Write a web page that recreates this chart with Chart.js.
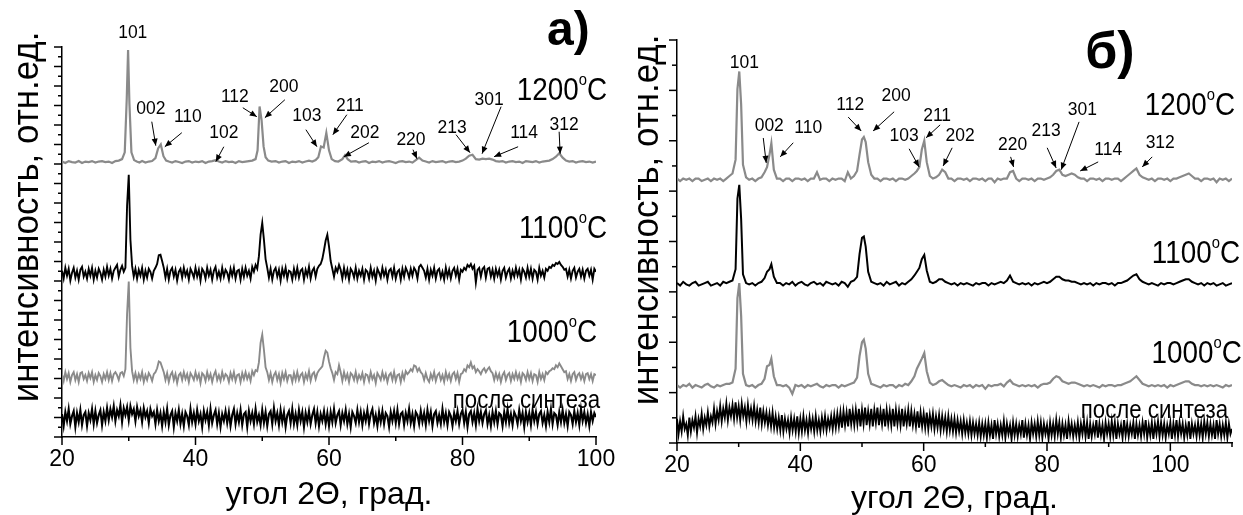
<!DOCTYPE html>
<html>
<head>
<meta charset="utf-8">
<script src="https://cdn.jsdelivr.net/npm/chart.js@4.4.1/dist/chart.umd.min.js"></script>
<style>
  body { margin: 0; background: #fff; }
  #wrap { position: relative; width: 1243px; height: 515px; overflow: hidden; }
  #chartA { position: absolute; left: 0; top: 0; }
  #chartB { position: absolute; left: 620px; top: 0; }
</style>
</head>
<body>
<div id="wrap">
  <canvas id="chartA" width="620" height="515"></canvas>
  <canvas id="chartB" width="623" height="515"></canvas>
</div>
<script>
// noisy scans are stored as a plain step scan starting at 20 deg
const scanStart = 20;
const scanStep = 0.25;

// ---- panel a) : intensities relative to each trace's baseline
const gridA = [
  20,20.5,21,21.5,22,22.5,23,23.5,24,24.5,25,25.5,26,26.5,27,27.5,28,28.5,29,
  29.4,29.7,29.9,30.1,30.4,30.8,31.2,31.6,
  32,32.5,33,33.5,34,
  34.4,34.8,35.2,35.6,
  36,36.5,37,37.5,38,38.5,39,39.5,40,40.5,41,41.5,42,42.5,43,43.5,44,44.5,45,45.5,46,46.5,47,47.5,48,48.5,49,
  49.3,49.6,49.9,50.2,50.5,50.9,51.4,
  52,52.5,53,53.5,54,54.5,55,55.5,56,56.5,57,57.5,58,
  58.4,58.8,59.2,59.6,60,60.4,60.9,61.4,
  62,62.4,62.8,63.3,
  64,64.5,65,65.5,66,66.5,67,67.5,68,68.5,
  69,69.5,70,70.5,71,71.5,72,72.5,73,73.5,
  74,74.5,75,75.5,76,76.5,77,77.5,78,78.5,
  79,79.5,80,80.5,81,81.5,82,82.5,83,83.5,
  84,84.5,85,85.5,86,86.5,87,87.5,88,88.5,
  89,89.5,90,90.5,91,91.5,92,92.5,93,93.5,
  94,94.5,95,95.5,96,96.5,97,97.5,98,98.5,
  99,99.5,100
];
const a1200 = [
  0.05,-0.1,0.1,0,-0.05,0.1,-0.1,0.05,0,0.1,-0.05,0.05,0.1,0,0.05,-0.1,0.1,0.15,0.3,
  1.0,6.5,11.5,6.0,1.0,0.2,0.05,-0.05,
  0.1,-0.05,0.05,0.1,0.4,
  1.4,1.8,0.6,0.15,
  0.05,-0.05,0.1,0,-0.1,0.05,0.1,-0.05,0.05,0,0.1,-0.1,0.05,0.1,0.2,0.05,-0.05,0.1,0,0.05,-0.1,0.1,0,0.05,0.1,0.15,0.3,
  1.2,5.7,4.3,1.6,0.5,0.15,0.05,
  0.1,-0.05,0.05,0.1,-0.1,0.05,0,0.1,-0.05,0.05,0.15,0.05,0.2,
  0.5,1.6,1.5,3.0,1.2,0.3,0.1,0.05,
  0.3,0.7,0.3,0.05,
  0.1,-0.05,0.05,0.1,-0.1,0.05,0,0.1,-0.05,0.05,
  0.1,0,-0.1,0.05,0.1,0,0.05,-0.05,0.2,0.45,
  0.15,0.05,-0.05,0.1,0,0.05,0.1,-0.05,0.05,0.1,
  0,0.05,0.15,0.35,0.65,0.75,0.3,0.25,0.35,0.3,
  0.35,0.25,0.1,0.05,0.1,-0.05,0.05,0.1,0,0.05,
  -0.1,0.1,0.05,0,0.1,-0.05,0.05,0.1,0.15,0.3,
  0.55,0.9,0.45,0.15,0.05,0.1,-0.05,0.05,0.1,0,
  0.05,-0.05,0.05
];
// 1100 C, 1000 C and as-synthesized: step scans 20..100 deg, 20 values per line = 5 deg
const a1100 = [
  0.3,-0.5,0.6,-0.2,0.5,-0.7,0.1,0.6,-0.4,0.3,-0.6,0.4,0.7,-0.3,0.2,-0.5,0.5,-0.2,0.6,-0.6,
  0.3,-0.4,0.5,0.1,-0.6,0.4,-0.3,0.7,-0.2,0.5,-0.5,0.3,0.6,0.9,-0.3,0.4,0.8,0.2,0.6,7.0,
  10.15,3.5,0.8,-0.3,0.5,-0.5,0.4,-0.2,0.6,-0.6,0.3,-0.4,0.5,0.2,-0.5,0.3,0.6,1.0,1.9,1.95,
  1.3,0.6,-0.4,0.5,-0.6,0.3,0.6,-0.3,0.4,-0.7,0.2,0.5,-0.4,0.6,-0.2,0.3,-0.6,0.5,0.1,-0.4,
  0.6,-0.3,0.4,-0.7,0.5,0.2,-0.5,0.6,-0.2,0.4,-0.6,0.3,0.7,-0.4,0.2,-0.5,0.6,-0.3,0.4,0.1,
  -0.6,0.5,-0.2,0.6,-0.5,0.3,0.4,-0.6,0.5,-0.3,0.6,-0.2,0.3,-0.5,0.7,0.2,0.9,0.5,1.8,4.0,
  5.2,3.5,1.5,0.6,-0.4,0.5,-0.6,0.3,0.6,-0.3,0.4,-0.7,0.5,-0.2,0.6,-0.5,0.3,0.2,-0.6,0.5,
  -0.3,0.6,-0.4,0.3,0.5,-0.6,0.4,-0.2,0.7,-0.5,0.3,0.6,-0.3,0.5,0.8,1.0,1.5,2.4,3.4,4.0,
  2.8,1.3,0.5,-0.3,0.6,0.2,0.9,0.4,-0.5,0.6,-0.3,0.4,-0.6,0.5,0.2,-0.4,0.6,-0.5,0.3,-0.2,
  0.5,-0.6,0.4,0.2,-0.5,0.6,-0.3,0.3,-0.7,0.5,0.1,-0.4,0.6,-0.2,0.4,-0.6,0.3,0.5,-0.3,0.6,
  -0.5,0.2,0.4,-0.6,0.5,-0.3,0.6,0.2,-0.4,0.5,-0.2,0.6,0.3,-0.5,0.7,0.9,0.6,0.3,-0.4,0.5,
  -0.6,0.4,-0.2,0.6,-0.5,0.3,0.5,-0.4,0.2,-0.6,0.6,-0.3,0.4,-0.5,0.3,0.6,-0.2,0.5,-0.6,0.4,
  0.2,0.6,0.4,0.9,0.7,1.0,0.5,0.8,-0.9,0.4,0.6,-0.3,0.5,0.7,-0.4,0.5,0.6,-0.3,0.4,-0.5,
  0.5,-0.2,0.4,-0.6,0.3,0.6,-0.4,0.2,0.5,-0.5,0.3,-0.3,0.6,-0.2,0.4,-0.6,0.5,0.2,-0.4,0.6,
  -0.3,0.5,-0.5,0.4,0.2,-0.6,0.6,-0.2,0.3,-0.4,0.5,0.3,0.7,0.6,0.9,0.8,1.1,1.0,1.2,0.9,
  0.7,0.4,0.5,-0.3,0.4,-0.5,0.3,0.6,-0.4,0.2,0.5,-0.3,0.4,-0.5,0.3,0.5,-0.2,0.4,-0.6,0.5,
  0.2
];
const a1000 = [
  0.3,-0.4,0.5,-0.2,0.4,-0.5,0.2,0.5,-0.3,0.3,-0.5,0.4,0.5,-0.2,0.2,-0.4,0.4,-0.1,0.5,-0.5,
  0.2,-0.3,0.4,0.1,-0.5,0.3,-0.2,0.5,-0.3,0.4,-0.4,0.3,0.5,0.2,-0.3,0.4,0.5,0.1,0.8,6.5,
  9.8,3.0,0.6,-0.3,0.4,-0.4,0.3,-0.2,0.5,-0.5,0.2,-0.3,0.4,0.1,-0.4,0.3,0.5,0.9,1.6,1.5,
  1.0,0.5,-0.3,0.4,-0.5,0.2,0.5,-0.3,0.3,-0.6,0.2,0.4,-0.3,0.5,-0.2,0.3,-0.5,0.4,0.1,-0.3,
  0.5,-0.2,0.3,-0.6,0.4,0.2,-0.4,0.5,-0.2,0.3,-0.5,0.2,0.6,-0.3,0.2,-0.4,0.5,-0.2,0.3,0.1,
  -0.5,0.4,-0.2,0.5,-0.4,0.2,0.3,-0.5,0.4,-0.2,0.5,-0.2,0.3,-0.4,0.6,0.2,0.7,0.6,1.5,3.5,
  4.35,2.8,1.0,0.5,-0.3,0.4,-0.5,0.2,0.5,-0.3,0.3,-0.6,0.4,-0.2,0.5,-0.4,0.2,0.2,-0.5,0.4,
  -0.3,0.5,-0.3,0.2,0.4,-0.5,0.3,-0.2,0.6,-0.4,0.3,0.5,-0.2,0.4,0.7,0.9,1.1,2.0,2.7,2.5,
  1.6,0.9,0.4,-0.3,0.5,0.3,1.2,0.5,-0.4,0.5,-0.2,0.3,-0.5,0.4,0.2,-0.3,0.5,-0.4,0.2,-0.2,
  0.4,-0.5,0.3,0.2,-0.4,0.5,-0.2,0.2,-0.6,0.4,0.1,-0.3,0.5,-0.2,0.3,-0.5,0.2,0.4,-0.3,0.5,
  -0.4,0.2,0.3,-0.5,0.4,-0.2,0.6,0.3,0.5,0.8,0.6,1.2,1.1,0.6,0.9,0.5,0.3,-0.3,0.4,-0.2,
  -0.5,0.3,-0.2,0.5,-0.4,0.2,0.4,-0.3,0.2,-0.5,0.5,-0.2,0.3,-0.4,0.3,0.5,-0.2,0.4,-0.5,0.3,
  0.4,0.8,0.6,1.2,1.0,1.5,0.9,1.1,0.5,0.8,0.6,0.3,0.7,0.9,0.5,0.8,1.0,0.6,0.4,-0.3,
  0.4,-0.2,0.3,-0.5,0.2,0.5,-0.3,0.2,0.4,-0.4,0.3,-0.2,0.5,-0.2,0.3,-0.5,0.4,0.2,-0.3,0.5,
  -0.2,0.4,-0.4,0.3,0.2,-0.5,0.5,-0.2,0.3,-0.3,0.5,0.3,0.6,0.7,0.9,0.8,1.2,1.0,1.4,1.1,
  0.8,0.5,0.6,-0.2,0.3,-0.4,0.3,0.5,-0.3,0.2,0.4,-0.2,0.3,-0.4,0.3,0.4,-0.2,0.3,-0.4,0.3,
  0.2
];
const aSynth = [
  0.4,-0.8,0.6,-0.3,0.9,-0.6,0.2,0.7,-0.9,0.5,-0.4,0.8,-0.7,0.3,0.6,-0.8,0.5,-0.2,0.9,-0.6,
  0.7,-0.5,0.3,0.8,-0.7,0.6,-0.3,1.0,-0.2,0.9,0.1,1.2,-0.3,0.8,0.2,1.3,-0.4,1.0,0.3,1.1,
  -0.2,1.2,0.4,0.9,-0.3,1.1,0.2,0.8,-0.4,1.0,0.1,0.7,-0.5,0.9,0.2,0.6,-0.6,0.8,-0.3,0.5,
  -0.8,0.6,-0.4,0.9,-0.7,0.3,0.7,-0.9,0.5,-0.3,0.8,-0.6,0.4,-0.8,0.6,0.2,-0.7,0.9,-0.4,0.5,
  -0.6,0.8,-0.3,0.4,-0.9,0.7,-0.2,0.6,-0.7,0.9,-0.5,0.3,0.8,-0.6,0.5,-0.9,0.4,-0.3,0.7,-0.5,
  0.6,-0.8,0.3,0.9,-0.6,0.5,-0.4,0.8,-0.7,0.4,0.6,-0.9,0.7,-0.3,0.5,-0.6,0.9,-0.4,0.3,-0.7,
  0.8,-0.5,0.6,-0.8,0.4,0.7,-0.6,1.0,-0.3,0.5,-0.7,0.8,-0.4,0.6,-0.9,0.3,0.7,-0.5,0.9,-0.6,
  0.4,-0.7,0.8,-0.3,0.6,-0.9,0.5,-0.4,0.7,-0.6,0.3,0.9,-0.5,0.6,-0.8,0.4,-0.3,0.7,-0.6,0.5,
  -0.8,0.6,-0.4,0.9,-0.5,0.3,0.7,-0.7,0.5,-0.3,0.8,-0.6,0.4,-0.9,0.6,0.2,-0.5,0.8,-0.4,0.6,
  -0.7,0.5,-0.3,0.8,-0.6,0.4,0.9,-0.5,0.3,-0.8,0.6,-0.4,0.7,-0.6,0.5,0.2,-0.9,0.6,-0.3,0.7,
  -0.5,0.8,-0.6,0.4,0.6,-0.7,0.5,-0.3,0.9,-0.5,0.4,-0.8,0.6,0.3,-0.6,0.7,-0.4,0.5,-0.7,0.8,
  -0.3,0.6,-0.8,0.4,0.7,-0.5,0.3,-0.6,0.9,-0.4,0.5,-0.7,0.6,0.2,-0.8,0.5,-0.3,0.7,-0.6,0.4,
  0.8,-0.5,0.6,-0.9,0.4,0.7,-0.4,0.5,-0.7,0.9,-0.3,0.6,-0.5,0.4,0.8,-0.6,0.3,-0.8,0.6,-0.4,
  0.7,-0.6,0.5,0.3,-0.8,0.6,-0.4,0.9,-0.5,0.4,-0.7,0.6,0.2,-0.6,0.8,-0.3,0.5,-0.9,0.6,-0.4,
  0.5,-0.7,0.8,-0.3,0.6,-0.6,0.4,0.7,-0.5,0.3,-0.8,0.6,-0.4,0.9,-0.6,0.5,0.3,-0.7,0.6,-0.4,
  0.8,-0.5,0.4,-0.8,0.6,0.3,-0.6,0.7,-0.4,0.5,-0.7,0.9,-0.3,0.6,-0.5,0.4,-0.8,0.6,-0.3,0.5,
  0.1
];
const offsetsA = [28.2, 16.75, 6.15, 1.95];
const hklA = ['101','002','110','102','112','200','103','211','202','220','213','301','114','312'];

// ---- panel б)
const gridB = [
  20,20.5,21,21.5,22,22.5,23,23.5,24,24.5,25,25.5,26,26.5,27,27.5,28,28.5,29,
  29.5,29.8,30.1,30.4,30.7,31.2,
  31.7,32.2,32.7,33.2,33.7,34.2,
  34.6,35,35.3,35.7,36.2,
  36.7,37.2,37.7,38.2,38.7,39.2,39.7,40.2,40.7,41.2,41.7,42.2,42.7,43.2,43.7,44.2,44.7,45.2,45.7,46.2,46.7,47.2,47.7,48.2,48.7,49.2,
  49.6,50,50.3,50.6,51,51.5,
  52,52.5,53,53.5,54,54.5,55,55.5,56,56.5,57,57.5,58,58.5,
  58.9,59.3,59.7,60.1,60.5,61,61.5,
  62,62.5,63,63.5,64,64.5,65,65.5,66,66.5,
  67,67.5,68,68.5,69,69.5,70,70.5,71,71.5,
  72,72.5,73,73.5,74,74.5,75,75.5,76,76.5,
  77,77.5,78,78.5,79,79.5,80,80.5,81,81.5,
  82,82.5,83,83.5,84,84.5,85,85.5,86,86.5,
  87,87.5,88,88.5,89,89.5,90,90.5,91,91.5,
  92,92.5,93,93.5,94,94.5,95,95.5,96,96.5,
  97,97.5,98,98.5,99,99.5,100,100.5,101,101.5,
  102,102.5,103,103.5,104,104.5,105,105.5,106,106.5,
  107,107.5,108,108.5,109,109.5,110
];
const b1200 = [
  0.05,-0.05,0.05,0,0.05,-0.05,0.05,0.05,-0.05,0,0.05,-0.05,0.05,0,0.05,-0.05,0.05,0.15,0.25,
  0.8,3.6,4.3,3.0,0.6,0.1,
  0,0.05,-0.05,0.05,0.1,0.3,
  0.5,1.0,1.45,0.4,0.05,
  0.05,-0.05,0.05,0.05,-0.05,0.05,0.05,0,0.05,-0.05,0.05,0.05,0.3,0,0.05,0.05,-0.05,0.05,0,0.05,0.05,-0.05,0.3,0.05,0.15,0.35,
  1.0,1.6,1.7,1.5,0.7,0.2,
  0.05,0.05,-0.05,0.05,0.05,0,0.05,-0.05,0.05,0.05,0,0.05,0.15,0.25,
  0.35,0.5,1.2,1.55,0.7,0.15,0.05,
  0.1,0.2,0.4,0.3,0.05,0.05,-0.05,0.05,0.05,0,
  0.05,-0.05,0.05,0.05,0,0.05,-0.05,0.05,0.05,-0.1,
  0.05,0,0.05,0.05,0.3,0.35,0.05,-0.05,0.05,0.05,
  0,0.05,-0.05,0.05,0.05,0,0.05,0.1,0.2,0.35,
  0.4,0.2,0.15,0.2,0.25,0.2,0.1,0.05,0.05,-0.05,
  0.05,0.05,0,0.05,-0.05,0.05,0.05,0,0.05,0.05,
  -0.05,0.05,0.15,0.25,0.35,0.45,0.2,0.1,0.05,0,
  0.05,-0.05,0.05,0.05,0,0.05,-0.05,0.05,0.05,0.1,
  0.15,0.2,0.25,0.15,0.05,0.05,-0.05,0.05,0.05,0,
  0.05,-0.1,0.05,0,0.05,-0.05,0.05
];
const b1100 = [
  0.05,-0.05,0.1,0,-0.05,0.05,0.1,-0.05,0,0.05,0.1,-0.05,0,0.05,-0.05,0.1,0.05,0.1,0.15,
  0.6,3.4,3.95,2.6,0.4,0.05,
  0,0.05,-0.05,0.05,0.1,0.25,
  0.5,0.6,0.8,0.3,0.05,
  0.05,-0.05,0.05,0,0.1,-0.05,0.05,0.1,0,-0.05,0.05,0.1,0,0.05,-0.05,0.1,0.05,0,0.05,-0.05,0.1,0.05,-0.1,0.1,0.15,0.3,
  1.2,1.85,1.9,1.5,0.5,0.1,
  0.05,0,0.05,-0.05,0.1,0,0.05,0.1,-0.05,0.05,0,0.1,0.2,0.35,
  0.5,0.65,1.0,1.17,0.55,0.1,0.05,
  0.1,0.2,0.2,0.1,0.05,0,0.05,-0.05,0.05,0,
  0.05,0,-0.05,0.05,0,0.05,0.05,-0.05,0.05,0,
  0.05,0.1,0.05,0.15,0.35,0.1,0.05,0,0.05,0,
  0.05,-0.05,0.05,0,0.05,0.1,0.05,0.1,0.2,0.3,
  0.3,0.2,0.15,0.15,0.1,0.1,0.05,0,0.05,0,
  0.05,-0.05,0.05,0,0.05,0.05,0,0.05,-0.05,0.05,
  0.05,0.1,0.15,0.25,0.35,0.4,0.2,0.1,0.05,0,
  0.05,0,-0.05,0.05,0,0.05,0.05,0,0.05,0.1,
  0.15,0.2,0.2,0.1,0.05,0,0.05,-0.05,0.05,0,
  0.05,-0.05,0,0.05,-0.05,0,0.05
];
const b1000 = [
  0.05,-0.05,0.05,0,0.1,-0.05,0.05,0,-0.05,0.05,0.1,0,-0.05,0.05,0,0.05,0.1,0.1,0.15,
  0.7,3.5,4.1,2.8,0.5,0.05,
  0,0.05,-0.05,0.05,0.1,0.3,
  0.8,0.85,1.1,0.4,0.05,
  0.05,0,0.05,-0.05,-0.3,0.05,0,0.05,-0.05,0.05,0,0.05,0.1,0,-0.05,0.05,0,0.05,0.05,-0.05,0.05,0,0.05,0.1,0.15,0.35,
  1.2,1.75,1.85,1.5,0.5,0.1,
  0.05,0,-0.05,0.05,0,0.05,0.05,-0.05,0.05,0,0.1,0.05,0.2,0.4,
  0.7,0.9,1.1,1.32,0.6,0.15,0.05,
  0.1,0.2,0.25,0.15,0.05,0,0.05,0,-0.05,0.05,
  0,0.05,-0.05,0.05,0,0.05,-0.1,0.05,0,0.05,
  0.05,0.1,0,0.15,0.25,0.1,0.05,0,0.05,0,
  0.05,0,0.05,-0.05,0.05,0.1,0.1,0.15,0.3,0.4,
  0.35,0.2,0.15,0.1,0.15,0.15,0.1,0.05,0,0.05,
  0,0.05,0,-0.05,0.05,0,0.05,0.05,0,0.05,
  0.05,0.1,0.15,0.2,0.3,0.4,0.25,0.1,0.05,0,
  0.05,0,0.05,0,0.05,-0.05,0.05,0,0.05,0.1,
  0.15,0.2,0.2,0.1,0.05,0.05,0,0.05,0,0.05,
  0,0.05,0,-0.05,0.05,0,0.05
];
// as-synthesized: step scan 20..110 deg, 20 values per line = 5 deg
const bSynth = [
  0.5,-0.1,0.4,0.0,0.6,0.1,0.3,-0.15,0.55,0.0,0.45,0.15,0.6,-0.05,0.5,0.2,0.7,0.1,0.55,0.25,
  0.75,0.2,0.6,0.35,0.9,0.3,0.8,0.45,1.0,0.4,0.9,0.55,1.1,0.45,0.95,0.6,1.05,0.5,1.15,0.55,
  1.0,0.45,1.1,0.6,0.95,0.4,1.05,0.5,0.9,0.45,1.0,0.4,0.85,0.35,0.95,0.3,0.8,0.35,0.75,0.25,
  0.7,0.2,0.75,0.15,0.6,0.1,0.55,0.05,0.65,0.0,0.5,0.1,0.45,-0.05,0.55,0.05,0.5,0.0,0.6,-0.05,
  0.5,0.0,0.6,0.05,0.45,-0.05,0.55,0.1,0.5,0.0,0.6,0.05,0.45,0.0,0.55,0.1,0.6,0.05,0.5,0.15,
  0.6,0.1,0.65,0.15,0.7,0.2,0.75,0.15,0.8,0.25,0.75,0.2,0.9,0.3,0.8,0.25,0.85,0.3,0.9,0.2,
  0.85,0.3,0.95,0.25,0.8,0.3,0.9,0.2,0.85,0.35,0.95,0.25,0.8,0.3,0.9,0.2,0.85,0.3,0.8,0.25,
  0.9,0.2,0.85,0.3,0.8,0.25,0.9,0.2,0.75,0.3,0.85,0.2,0.8,0.25,0.7,0.2,0.8,0.15,0.75,0.2,
  0.7,0.15,0.75,0.1,0.65,0.2,0.7,0.1,0.6,0.15,0.65,0.05,0.6,0.1,0.55,0.0,0.6,0.05,0.5,0.0,
  0.5,-0.05,0.45,0.0,0.4,-0.1,0.45,-0.05,0.35,-0.1,0.4,-0.15,0.35,-0.1,0.3,-0.15,0.35,-0.2,0.3,-0.15,
  0.3,-0.25,0.35,-0.15,0.25,-0.3,0.45,-0.1,0.3,-0.2,0.25,-0.15,0.4,-0.25,0.3,-0.1,0.25,-0.3,0.35,-0.15,
  0.3,-0.2,0.25,-0.1,0.45,-0.25,0.3,-0.15,0.25,-0.3,0.35,-0.1,0.3,-0.2,0.4,-0.15,0.35,-0.25,0.3,-0.1,
  0.25,-0.3,0.35,-0.15,0.3,-0.2,0.45,-0.1,0.35,-0.25,0.3,-0.15,0.25,-0.3,0.4,-0.1,0.3,-0.2,0.25,-0.15,
  0.35,-0.25,0.3,-0.1,0.4,-0.2,0.35,-0.3,0.3,-0.2,0.25,-0.1,0.45,-0.25,0.3,-0.15,0.25,-0.3,0.35,-0.1,
  0.3,-0.2,0.4,-0.15,0.35,-0.3,0.3,-0.1,0.25,-0.25,0.45,-0.15,0.3,-0.2,0.25,-0.1,0.35,-0.3,0.3,-0.15,
  0.25,-0.2,0.35,-0.1,0.45,-0.25,0.25,-0.15,0.35,-0.3,0.3,-0.1,0.4,-0.2,0.35,-0.15,0.3,-0.25,0.25,-0.1,
  0.35,-0.3,0.3,-0.15,0.45,-0.2,0.35,-0.1,0.3,-0.25,0.25,-0.15,0.4,-0.3,0.3,-0.1,0.25,-0.2,0.35,-0.15,
  0.3,-0.25,0.4,-0.1,0.35,-0.2,0.3,-0.15,0.25,-0.3,0.45,-0.1,0.3,-0.2,0.25,-0.15,0.35,-0.25,0.3,-0.1,
  0.1
];
const offsetsB = [10.45, 6.3, 2.25, 0.46];
const hklB = ['101','002','110','112','200','103','211','202','220','213','301','114','312'];

const temps = ['1200', '1100', '1000'];
const asSynth = 'после синтеза';

const FONT = '"Liberation Sans", Arial, sans-serif';
const GRAY = '#8a8a8a';

function scanXs(n) {
  const xs = [];
  for (let i = 0; i < n; i++) xs.push(scanStart + i * scanStep);
  return xs;
}

// defs: [values, grid or null (step scan), colour, width]
function buildSets(offsets, defs, xmax) {
  return defs.map((d, k) => {
    const vals = d[0];
    const grid = d[1] || scanXs(vals.length);
    if (vals.length !== grid.length || grid[grid.length - 1] !== xmax) {
      throw new Error('series ' + k + ': ' + vals.length + ' vs ' + grid.length);
    }
    return {
      data: grid.map((x, i) => ({ x: x, y: offsets[k] + vals[i] })),
      borderColor: d[2],
      borderWidth: d[3],
      pointRadius: 0,
      tension: 0,
      fill: false
    };
  });
}

function drawText(ctx, s, x, y, size, align, sx, weight, base) {
  ctx.save();
  ctx.translate(x, y);
  ctx.scale(sx, 1);
  ctx.font = (weight || 'normal') + ' ' + size + 'px ' + FONT;
  ctx.textAlign = align;
  ctx.textBaseline = base || 'middle';
  ctx.fillStyle = '#000';
  ctx.fillText(s, 0, 0);
  ctx.restore();
}

function arrow(ctx, x1, y1, x2, y2) {
  ctx.beginPath();
  ctx.moveTo(x1, y1);
  ctx.lineTo(x2, y2);
  ctx.lineWidth = 1;
  ctx.stroke();
  const a = Math.atan2(y2 - y1, x2 - x1), L = 7, W = 3;
  ctx.beginPath();
  ctx.moveTo(x2, y2);
  ctx.lineTo(x2 - L * Math.cos(a) + W * Math.sin(a), y2 - L * Math.sin(a) - W * Math.cos(a));
  ctx.lineTo(x2 - L * Math.cos(a) - W * Math.sin(a), y2 - L * Math.sin(a) + W * Math.cos(a));
  ctx.closePath();
  ctx.fill();
}

// temperature label like 1200°C with a raised "o"
function tempLabel(ctx, t, xr, yb) {
  const size = 32, sx = 0.87, sup = 17;
  ctx.font = size + 'px ' + FONT;
  const w1 = ctx.measureText(t).width, w3 = ctx.measureText('C').width;
  ctx.font = sup + 'px ' + FONT;
  const w2 = ctx.measureText('o').width;
  const x0 = xr - (w1 + w2 + w3) * sx;
  drawText(ctx, t, x0, yb, size, 'left', sx, 'normal', 'alphabetic');
  drawText(ctx, 'o', x0 + w1 * sx, yb - 15, sup, 'left', sx, 'normal', 'alphabetic');
  drawText(ctx, 'C', x0 + (w1 + w2) * sx, yb, size, 'left', sx, 'normal', 'alphabetic');
}

const decor = {
  id: 'decor',
  afterDraw(chart, args, o) {
    const ctx = chart.ctx, xs = chart.scales.x, ys = chart.scales.y;
    const X = v => xs.getPixelForValue(v), Y = v => ys.getPixelForValue(v);
    ctx.save();
    ctx.strokeStyle = '#000';
    ctx.fillStyle = '#000';
    ctx.lineWidth = 1.5;
    xs.ticks.forEach(t => {
      const p = X(t.value), L = t.value % 20 === 0 ? 8 : 4;
      ctx.beginPath(); ctx.moveTo(p, xs.top); ctx.lineTo(p, xs.top + L); ctx.stroke();
    });
    ys.ticks.forEach(t => {
      const p = Y(t.value), L = t.value % 2 === 0 ? 8 : o.minorLen;
      ctx.beginPath(); ctx.moveTo(ys.right - L, p); ctx.lineTo(ys.right, p); ctx.stroke();
    });
    // y axis title
    ctx.save();
    ctx.translate(o.yTitle[0], o.yTitle[1]);
    ctx.rotate(-Math.PI / 2);
    drawText(ctx, 'интенсивность, отн.ед.', 0, 0, 36, 'center', 0.97);
    ctx.restore();
    // hkl labels with arrows
    o.hkl.forEach((h, i) => {
      drawText(ctx, o.names[i], X(h[0]), Y(h[1]), 19, 'center', 0.92);
      if (h[2] !== undefined) arrow(ctx, X(h[2]), Y(h[3]), X(h[4]), Y(h[5]));
    });
    o.temps.forEach((p, i) => tempLabel(ctx, temps[i], X(p[0]), Y(p[1])));
    drawText(ctx, asSynth, X(o.synth[0]), Y(o.synth[1]), 25, 'right', 0.89, 'normal', 'alphabetic');
    drawText(ctx, o.panel[0], X(o.panel[1]), Y(o.panel[2]), o.panel[3], 'left', 1, 'bold', 'alphabetic');
    ctx.restore();
  }
};

function axes(xmax, ymax, xh, yw, titlePad) {
  const border = { display: true, color: '#000', width: 1.5 };
  return {
    x: {
      type: 'linear', min: 20, max: xmax,
      afterFit: s => { s.height = xh; },
      ticks: { stepSize: 10, autoSkip: false, maxRotation: 0, padding: 1, color: '#000',
               font: { family: FONT, size: 23 },
               callback: v => (v % 20 === 0 ? v : '') },
      grid: { display: false, drawTicks: true, tickLength: 8 },
      border: border,
      title: { display: true, text: 'угол 2Θ, град.', color: '#000',
               font: { family: FONT, size: 32, lineHeight: 1 }, padding: { top: 0, bottom: titlePad } }
    },
    y: {
      type: 'linear', min: 0, max: ymax,
      afterFit: s => { s.width = yw; },
      ticks: { stepSize: 1, autoSkip: false, callback: () => '' },
      grid: { display: false, drawTicks: false },
      border: border
    }
  };
}

Chart.defaults.animation = false;

new Chart(document.getElementById('chartA'), {
  type: 'line',
  data: { datasets: buildSets(offsetsA, [
    [a1200, gridA, GRAY, 2.2],
    [a1100, null, '#000', 1.9],
    [a1000, null, GRAY, 1.9],
    [aSynth, null, '#000', 2.1]
  ], 100) },
  options: {
    responsive: false,
    layout: { padding: { left: 0, right: 24, top: 47, bottom: 0 } },
    scales: axes(100, 40, 78, 62, 4),
    plugins: {
      legend: { display: false },
      tooltip: { enabled: false },
      decor: {
        minorLen: 4,
        yTitle: [28, 217],
        names: hklA,
        hkl: [
          [30.6, 41.47],
          [33.3, 33.67, 33.45, 32.34, 34.05, 29.88],
          [38.85, 32.85, 37.95, 31.21, 35.4, 29.77],
          [44.24, 31.21, 44.24, 29.77, 43.04, 28.24],
          [45.89, 34.85, 47.09, 33.77, 49.19, 32.85],
          [53.24, 35.88, 53.39, 34.59, 50.39, 32.75],
          [56.69, 32.95, 56.54, 31.52, 58.19, 29.78],
          [63.13, 33.98, 62.68, 33.06, 60.58, 31.01],
          [65.38, 31.21, 65.98, 30.18, 62.23, 28.75],
          [72.28, 30.49, 72.58, 29.47, 73.18, 28.54],
          [78.43, 31.72, 79.03, 31.01, 81.13, 29.16],
          [83.98, 34.6, 85.78, 33.88, 82.93, 29.06],
          [89.23, 31.21, 88.33, 29.77, 84.73, 28.75],
          [95.23, 32.03, 94.48, 31.31, 94.63, 29.06]
        ],
        temps: [[101.66, 34.59], [101.66, 20.44], [100.17, 9.77]],
        synth: [100.62, 2.95],
        panel: ['а)', 92.67, 40.24, 48]
      }
    }
  },
  plugins: [decor]
});

new Chart(document.getElementById('chartB'), {
  type: 'line',
  data: { datasets: buildSets(offsetsB, [
    [b1200, gridB, GRAY, 2.2],
    [b1100, gridB, '#000', 2],
    [b1000, gridB, GRAY, 2.2],
    [bSynth, null, '#000', 1.9]
  ], 110) },
  options: {
    responsive: false,
    layout: { padding: { left: 0, right: 11, top: 40, bottom: 0 } },
    scales: axes(110, 16, 72, 57, 0),
    plugins: {
      legend: { display: false },
      tooltip: { enabled: false },
      decor: {
        minorLen: 5,
        yTitle: [28, 220],
        names: hklB,
        hkl: [
          [30.91, 15.11],
          [34.96, 12.59, 33.99, 12.11, 34.47, 11.12],
          [41.28, 12.51, 38.85, 11.92, 36.74, 11.36],
          [48.09, 13.42, 47.76, 12.94, 49.87, 12.39],
          [55.53, 13.78, 55.21, 13.15, 51.8, 12.39],
          [56.84, 12.19, 57.64, 11.68, 59.26, 10.96],
          [62.18, 12.99, 62.67, 12.63, 60.4, 12.12],
          [65.91, 12.19, 64.62, 11.72, 63.16, 11.0],
          [74.42, 11.84, 74.1, 11.36, 74.58, 10.96],
          [79.86, 12.39, 80.03, 11.72, 81.48, 10.92],
          [85.72, 13.23, 85.2, 12.75, 82.3, 10.85],
          [89.93, 11.64, 88.3, 11.16, 85.38, 10.8],
          [98.36, 11.92, 97.06, 11.36, 95.44, 10.96]
        ],
        temps: [[110.49, 13.03], [111.3, 7.15], [111.6, 3.19]],
        synth: [109.36, 1.0],
        panel: ['б)', 86.19, 14.89, 52]
      }
    }
  },
  plugins: [decor]
});
</script>
</body>
</html>
